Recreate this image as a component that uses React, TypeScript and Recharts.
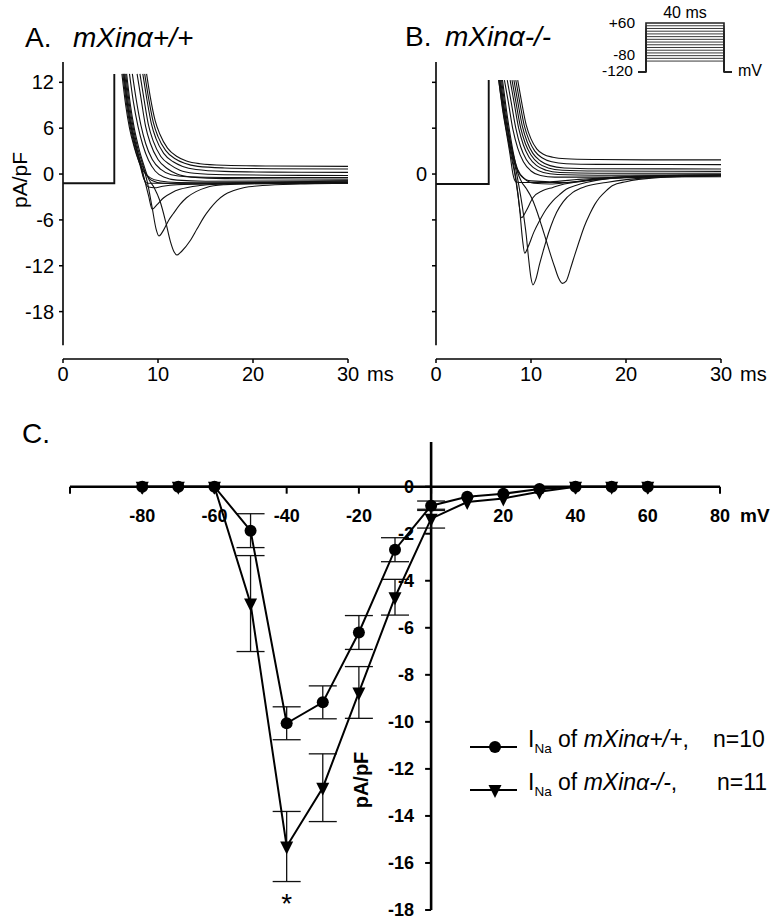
import React from 'react';
import { LineChart, Line, XAxis, YAxis, ReferenceLine, ReferenceDot, ErrorBar } from 'recharts';

const FONT = '"Liberation Sans", Arial, Helvetica, sans-serif';

// ---- C: I-V relation (pA/pF vs mV) ----
const voltages = [-80, -70, -60, -50, -40, -30, -20, -10, 0, 10, 20, 30, 40, 50, 60];
const wtMean = [0, 0, 0, -1.87, -10.06, -9.17, -6.2, -2.68, -0.81, -0.43, -0.3, -0.1, 0, 0, 0];
const wtSem = [0, 0, 0, 0.72, 0.7, 0.7, 0.72, 0.51, 0.2, 0, 0, 0, 0, 0, 0];
const koMean = [0, 0, 0, -4.97, -15.3, -12.8, -8.75, -4.7, -1.36, -0.65, -0.5, -0.22, 0, 0, 0];
const koSem = [0, 0, 0, 2.04, 1.49, 1.44, 1.1, 0.76, 0.4, 0, 0, 0, 0, 0, 0];
const ivXTicks = [-100, -80, -60, -40, -20, 0, 20, 40, 60, 80];
const ivYTicks = [0, -2, -4, -6, -8, -10, -12, -14, -16, -18];

// ---- A / B: current traces, [ms, pA/pF] ----
const traceXTicks = [0, 10, 20, 30];
const traceYTicks = [-18, -12, -6, 0, 6, 12];

const wtBaseline: number[][] = [[0, -1.2], [5.4, -1.2], [5.4, 13.1]];
const koBaseline: number[][] = [[0, -1.3], [5.55, -1.3], [5.55, 12.3]];

const wtTraces: number[][][] = [
  [[8.8, 13.1], [9.2, 10], [9.7, 7], [10.2, 5.2], [11, 3.4], [12, 2.3], [13, 1.7], [14.4, 1.35], [17, 1.15], [22, 1.05], [30, 1.0]],
  [[8.6, 13.1], [9.0, 10], [9.5, 6.8], [10.0, 4.9], [10.8, 3.1], [11.8, 2.0], [12.8, 1.4], [14.2, 1.0], [17, 0.8], [22, 0.7], [30, 0.66]],
  [[8.4, 13.1], [8.8, 10], [9.3, 6.6], [9.8, 4.6], [10.6, 2.7], [11.6, 1.6], [12.6, 1.0], [14, 0.6], [17, 0.35], [22, 0.25], [30, 0.22]],
  [[8.1, 13.1], [8.5, 10], [9.0, 6.4], [9.5, 4.3], [10.3, 2.3], [11.3, 1.2], [12.3, 0.5], [13.8, 0.1], [17, -0.1], [22, -0.15], [30, -0.2]],
  [[7.8, 13.1], [8.2, 10], [8.7, 6.2], [9.2, 4.0], [10, 1.9], [11, 0.7], [12, 0.0], [13.5, -0.4], [17, -0.6], [30, -0.66]],
  [[7.3, 13.1], [7.7, 9.8], [8.2, 6.4], [8.7, 4.0], [9.4, 1.9], [10.3, 0.6], [11.4, -0.1], [13, -0.35], [17, -0.45], [30, -0.45]],
  [[7.0, 13.1], [7.4, 9.5], [7.9, 6.2], [8.4, 3.8], [9.0, 1.8], [9.7, 0.4], [10.6, -0.4], [12, -0.8], [15, -0.95], [30, -0.9]],
  [[6.2, 13.1], [6.6, 9], [7.0, 6], [7.5, 3.5], [8.0, 1.6], [8.5, 0.3], [9.2, -0.5], [10.2, -0.9], [12, -1.1], [16, -1.15], [30, -1.1]],
  [[6.4, 13.1], [6.8, 9], [7.2, 6], [7.7, 3.4], [8.2, 1.5], [8.7, 0.1], [9.3, -0.8], [10.5, -1.2], [13, -1.3], [20, -1.25], [30, -1.2]],
  [[6.3, 13.1], [6.7, 9], [7.1, 6], [7.6, 3.3], [8.1, 1.2], [8.5, -0.6], [8.9, -1.2], [10, -1.2], [14, -1.2], [20, -1.1], [30, -0.9]],
  [[6.4, 13.1], [6.8, 9], [7.2, 6], [7.7, 3.3], [8.2, 1.0], [8.6, -0.9], [9.0, -1.7], [9.6, -1.8], [10.5, -1.6], [12, -1.4], [16, -1.25], [30, -1.1]],
  [[6.5, 13.1], [6.9, 9], [7.3, 6], [7.8, 3.2], [8.2, 1.2], [8.6, -0.8], [9.0, -2.8], [9.4, -4.6], [9.9, -4.0], [10.6, -3.1], [11.5, -2.4], [12.3, -2.0], [14.4, -1.5], [17, -1.3], [22, -1.1], [30, -1.0]],
  [[6.6, 13.1], [7.0, 9], [7.4, 6], [7.9, 3.2], [8.4, 1.2], [8.9, -1.2], [9.4, -4.5], [9.8, -7.2], [10.1, -8.1], [10.6, -7.3], [11.1, -6.1], [11.6, -5.2], [12.3, -4.0], [13.0, -3.1], [14.0, -2.3], [15.1, -1.75], [17, -1.4], [20, -1.25], [30, -1.15]],
  [[6.7, 13.1], [7.1, 9], [7.5, 6], [8.0, 3.3], [8.5, 1.2], [9.0, -0.6], [9.6, -1.8], [10.2, -3.5], [10.8, -6.2], [11.3, -8.8], [11.7, -10.2], [12.0, -10.6], [12.5, -10.1], [13.4, -8.7], [14.1, -7.2], [14.8, -5.7], [15.5, -4.5], [16.2, -3.5], [17, -2.7], [17.9, -2.2], [19, -1.8], [21, -1.5], [25, -1.3], [30, -1.2]],
];

const koTraces: number[][][] = [
  [[8.6, 12.3], [9.0, 9.5], [9.5, 6.4], [10.0, 4.6], [10.6, 3.3], [11.3, 2.6], [12.3, 2.2], [13.7, 2.0], [17, 1.9], [22, 1.85], [30, 1.85]],
  [[8.4, 12.3], [8.8, 9.5], [9.3, 6.3], [9.8, 4.4], [10.4, 3.0], [11.2, 2.1], [12.2, 1.6], [13.7, 1.35], [17, 1.27], [30, 1.23]],
  [[8.2, 12.3], [8.6, 9.5], [9.1, 6.2], [9.6, 4.2], [10.2, 2.7], [11.0, 1.7], [12, 1.1], [13.5, 0.8], [17, 0.7], [30, 0.66]],
  [[8.0, 12.3], [8.4, 9.5], [8.9, 6.1], [9.4, 4.0], [10.0, 2.5], [10.8, 1.4], [11.8, 0.8], [13.3, 0.5], [17, 0.4], [30, 0.35]],
  [[7.8, 12.3], [8.2, 9.5], [8.7, 6.0], [9.2, 3.8], [9.8, 2.2], [10.6, 1.1], [11.6, 0.5], [13, 0.2], [17, 0.1], [30, 0.1]],
  [[7.5, 12.3], [7.9, 9.5], [8.4, 6.0], [8.9, 3.6], [9.5, 1.9], [10.3, 0.8], [11.3, 0.2], [12.8, -0.05], [17, -0.15], [30, -0.1]],
  [[7.2, 12.3], [7.6, 9.5], [8.1, 5.8], [8.6, 3.4], [9.2, 1.6], [10, 0.4], [11, -0.2], [12.5, -0.4], [17, -0.4], [30, -0.35]],
  [[6.6, 12.3], [7.0, 8.8], [7.4, 5.8], [7.9, 3.0], [8.4, 1.0], [9.0, -0.3], [10, -0.9], [12, -1.0], [15, -0.7], [20, -0.35], [30, -0.1]],
  [[6.7, 12.3], [7.1, 8.8], [7.6, 5.6], [8.1, 2.7], [8.6, 0.6], [9.3, -0.6], [10.3, -1.2], [12, -1.3], [14, -1.1], [18, -0.6], [30, -0.25]],
  [[6.6, 12.3], [7.0, 8.5], [7.4, 5.5], [7.8, 2.5], [8.1, 0], [8.4, -1.0], [8.8, -1.1], [13.7, -1.1], [17, -0.6], [22, -0.3], [30, -0.2]],
  [[6.7, 12.3], [7.1, 8.5], [7.5, 5.2], [7.9, 2.4], [8.3, 0], [8.6, -2.5], [9.0, -5.7], [9.5, -4.8], [10.2, -3.1], [11.2, -2.2], [12.3, -1.75], [13.5, -1.3], [15.1, -1.0], [18, -0.6], [22, -0.35], [30, -0.2]],
  [[6.8, 12.3], [7.2, 8.5], [7.6, 5.2], [8.0, 2.4], [8.4, -0.5], [8.8, -4.5], [9.1, -8.5], [9.34, -10.35], [9.7, -9.5], [10.3, -7.6], [10.9, -6.1], [11.6, -4.6], [12.3, -3.5], [13.0, -2.7], [13.7, -2.0], [14.7, -1.5], [15.8, -1.1], [18, -0.6], [22, -0.3], [30, -0.1]],
  [[6.9, 12.3], [7.3, 8.5], [7.7, 5.2], [8.1, 2.4], [8.5, 0], [8.9, -2.8], [9.2, -5.2], [9.5, -8.0], [9.7, -10.5], [10.0, -13.6], [10.2, -14.5], [10.5, -13.8], [10.9, -11.8], [11.3, -10.0], [11.6, -8.7], [12.1, -6.8], [12.7, -5.0], [13.4, -3.6], [14.4, -2.4], [15.8, -1.6], [17.9, -1.1], [22, -0.5], [30, -0.2]],
  [[7.0, 12.3], [7.4, 8.5], [7.8, 5.2], [8.2, 2.4], [8.6, 0.2], [9.0, -1.0], [9.5, -1.9], [10.1, -3.2], [10.6, -4.8], [11.1, -6.7], [11.6, -8.7], [12.1, -10.7], [12.5, -12.2], [12.9, -13.6], [13.3, -14.3], [13.7, -14.0], [14.2, -12.2], [14.6, -10.6], [15.1, -8.7], [15.6, -6.9], [16.2, -5.2], [16.7, -4.0], [17.2, -3.1], [17.9, -2.2], [18.6, -1.5], [20, -1.0], [23, -0.5], [30, -0.2]],
];

// ---- voltage protocol inset ----
const stepLevels = [-80, -70, -60, -50, -40, -30, -20, -10, 0, 10, 20, 30, 40, 50, 60];
const holdingLevel = -120;
const stepMs = 40;

const toPts = (arr: number[][]) => arr.map(([t, i]) => ({ t, i }));

function MsTick(props: any) {
  const { x, y, payload } = props;
  return (
    <g>
      <text x={x} y={y + 16} textAnchor="middle" fontSize={20} fontFamily={FONT} fill="#000">
        {payload.value}
      </text>
      {payload.value === 30 && (
        <text x={x + 19} y={y + 16} fontSize={20} fontFamily={FONT} fill="#000">
          ms
        </text>
      )}
    </g>
  );
}

function TracePanel({ traces, baseline, labelled, left, width, marginLeft }: any) {
  const plotW = 285;
  return (
    <div style={{ position: 'absolute', left, top: 0 }}>
      <LineChart
        width={width}
        height={400}
        margin={{ top: 62, right: width - marginLeft - 50 - plotW, left: marginLeft, bottom: 11 }}
      >
        <XAxis
          type="number"
          dataKey="t"
          domain={[0, 30]}
          ticks={traceXTicks}
          allowDataOverflow
          height={30}
          tickSize={4}
          tickMargin={2}
          axisLine={{ stroke: '#000', strokeWidth: 1.5 }}
          tickLine={{ stroke: '#000', strokeWidth: 1.5 }}
          tick={<MsTick />}
        />
        <YAxis
          type="number"
          domain={[-24.2, 14.66]}
          ticks={traceYTicks}
          allowDataOverflow
          width={50}
          axisLine={false}
          tickSize={4}
          tickMargin={5}
          tickLine={{ stroke: '#000', strokeWidth: 1.5 }}
          tick={{ fontSize: 20, fill: '#000', fontFamily: FONT }}
          tickFormatter={(v: number) => (labelled || v === 0 ? String(v) : '')}
        />
        <ReferenceLine
          segment={[{ x: 0, y: -22.4 }, { x: 0, y: 14.66 }]}
          stroke="#000"
          strokeWidth={1.6}
        />
        <Line
          data={toPts(baseline)}
          dataKey="i"
          type="linear"
          stroke="#111"
          strokeWidth={1.9}
          dot={false}
          isAnimationActive={false}
        />
        {traces.map((tr: number[][], k: number) => (
          <Line
            key={k}
            data={toPts(tr)}
            dataKey="i"
            type="monotoneX"
            stroke="#111"
            strokeWidth={1.1}
            dot={false}
            isAnimationActive={false}
          />
        ))}
      </LineChart>
    </div>
  );
}

function ProtocolInset() {
  return (
    <div style={{ position: 'absolute', left: 600, top: 0 }}>
      <LineChart width={177} height={100} margin={{ top: 22.5, right: 45.2, left: 38.2, bottom: 26.7 }}>
        <XAxis type="number" dataKey="t" domain={[-4, 44]} hide />
        <YAxis type="number" domain={[-125, 62]} hide />
        {stepLevels.map((v) => (
          <Line
            key={v}
            data={[
              { t: -4, i: holdingLevel },
              { t: 0, i: holdingLevel },
              { t: 0, i: v },
              { t: stepMs, i: v },
              { t: stepMs, i: holdingLevel },
              { t: stepMs + 4, i: holdingLevel },
            ]}
            dataKey="i"
            type="linear"
            stroke="#222"
            strokeWidth={v === 60 ? 1.6 : 0.9}
            dot={false}
            isAnimationActive={false}
          />
        ))}
      </LineChart>
    </div>
  );
}

function XTick(props: any) {
  const { cx, cy, value } = props;
  return (
    <g>
      <line x1={cx} y1={cy} x2={cx} y2={cy + 7} stroke="#000" strokeWidth={2} />
      {value !== 0 && value !== -100 && (
        <text x={cx} y={cy + 35} textAnchor="middle" fontSize={18} fontWeight="bold" fontFamily={FONT} fill="#000">
          {value}
        </text>
      )}
      {value === 80 && (
        <text x={cx + 20} y={cy + 35} fontSize={19} fontWeight="bold" fontFamily={FONT} fill="#000">
          mV
        </text>
      )}
    </g>
  );
}

function YTick(props: any) {
  const { cx, cy, value } = props;
  return (
    <g>
      <line x1={cx - 6} y1={cy} x2={cx} y2={cy} stroke="#000" strokeWidth={2} />
      <text x={cx - 17} y={cy + 6} textAnchor="end" fontSize={18} fontWeight="bold" fontFamily={FONT} fill="#000">
        {value}
      </text>
    </g>
  );
}

function Triangle({ cx, cy }: { cx: number; cy: number }) {
  return <path d={`M${cx - 6.5},${cy - 5} L${cx + 6.5},${cy - 5} L${cx},${cy + 8} Z`} fill="#000" />;
}

function IVPanel() {
  const data = voltages.map((v, k) => ({ v, wt: wtMean[k], wtErr: wtSem[k], ko: koMean[k], koErr: koSem[k] }));
  return (
    <div style={{ position: 'absolute', left: 0, top: 400 }}>
      <LineChart width={777} height={523} data={data} margin={{ top: 42, right: 57, left: 70, bottom: 13 }}>
        <XAxis type="number" dataKey="v" domain={[-100, 80]} hide allowDataOverflow />
        <YAxis type="number" domain={[-18, 1.9]} hide allowDataOverflow />
        <ReferenceLine y={0} stroke="#000" strokeWidth={2.6} />
        <ReferenceLine x={0} stroke="#000" strokeWidth={2.6} />
        {ivXTicks.map((v) => (
          <ReferenceDot key={'x' + v} x={v} y={0} r={1} shape={(p: any) => <XTick {...p} value={v} />} />
        ))}
        {ivYTicks.map((v) => (
          <ReferenceDot key={'y' + v} x={0} y={v} r={1} shape={(p: any) => <YTick {...p} value={v} />} />
        ))}
        <Line
          dataKey="ko"
          type="linear"
          stroke="#000"
          strokeWidth={2}
          isAnimationActive={false}
          dot={(p: any) => <Triangle key={'ko' + p.index} cx={p.cx} cy={p.cy} />}
        >
          <ErrorBar dataKey="koErr" direction="y" width={14} stroke="#111" strokeWidth={1.3} />
        </Line>
        <Line
          dataKey="wt"
          type="linear"
          stroke="#000"
          strokeWidth={2}
          isAnimationActive={false}
          dot={(p: any) => <circle key={'wt' + p.index} cx={p.cx} cy={p.cy} r={6} fill="#000" />}
        >
          <ErrorBar dataKey="wtErr" direction="y" width={14} stroke="#111" strokeWidth={1.3} />
        </Line>
        <ReferenceDot
          x={-40}
          y={-17.5}
          r={1}
          shape={(p: any) => (
            <text x={p.cx} y={p.cy + 15} textAnchor="middle" fontSize={28} fontFamily={FONT} fill="#000">
              *
            </text>
          )}
        />
      </LineChart>
    </div>
  );
}

function Overlay() {
  const t = { fontFamily: FONT, fill: '#000' } as const;
  return (
    <svg width={777} height={923} style={{ position: 'absolute', left: 0, top: 0, pointerEvents: 'none' }}>
      <text x={25} y={47} fontSize={28} {...t}>A.</text>
      <text x={73} y={47} fontSize={28} fontStyle="italic" {...t}>mXinα+/+</text>
      <text x={405} y={46} fontSize={28} {...t}>B.</text>
      <text x={445} y={46} fontSize={28} fontStyle="italic" {...t}>mXinα-/-</text>
      <text x={0} y={0} fontSize={21} textAnchor="middle" transform="translate(27,180) rotate(-90)" {...t}>pA/pF</text>

      <text x={685} y={18} fontSize={16} textAnchor="middle" {...t}>40 ms</text>
      <text x={635} y={28} fontSize={15.5} textAnchor="end" {...t}>+60</text>
      <text x={635} y={60} fontSize={15} textAnchor="end" {...t}>-80</text>
      <text x={633} y={76} fontSize={15.5} textAnchor="end" {...t}>-120</text>
      <text x={738} y={76} fontSize={16} {...t}>mV</text>

      <text x={22} y={443} fontSize={28} {...t}>C.</text>
      <text x={0} y={0} fontSize={20} fontWeight="bold" textAnchor="middle" transform="translate(368,780) rotate(-90)" {...t}>pA/pF</text>

      <line x1={470} y1={747} x2={517} y2={747} stroke="#000" strokeWidth={2} />
      <circle cx={495} cy={747} r={6} fill="#000" />
      <text x={528} y={747} fontSize={23} {...t}>
        I<tspan fontSize={13.5} dy={6}>Na</tspan>
        <tspan dy={-6}> of </tspan>
        <tspan fontStyle="italic">mXinα+/+</tspan>,
      </text>
      <text x={713} y={747} fontSize={23} {...t}>n=10</text>

      <line x1={470} y1={790} x2={517} y2={790} stroke="#000" strokeWidth={2} />
      <Triangle cx={495} cy={790} />
      <text x={528} y={790} fontSize={23} {...t}>
        I<tspan fontSize={13.5} dy={6}>Na</tspan>
        <tspan dy={-6}> of </tspan>
        <tspan fontStyle="italic">mXinα-/-</tspan>,
      </text>
      <text x={717} y={790} fontSize={23} {...t}>n=11</text>
    </svg>
  );
}

export default function App() {
  return (
    <div style={{ position: 'absolute', left: 0, top: 0, width: 777, height: 923, background: '#fff', fontFamily: FONT }}>
      <TracePanel traces={wtTraces} baseline={wtBaseline} labelled left={0} width={400} marginLeft={13} />
      <TracePanel traces={koTraces} baseline={koBaseline} labelled={false} left={380} width={397} marginLeft={6} />
      <ProtocolInset />
      <IVPanel />
      <Overlay />
    </div>
  );
}
